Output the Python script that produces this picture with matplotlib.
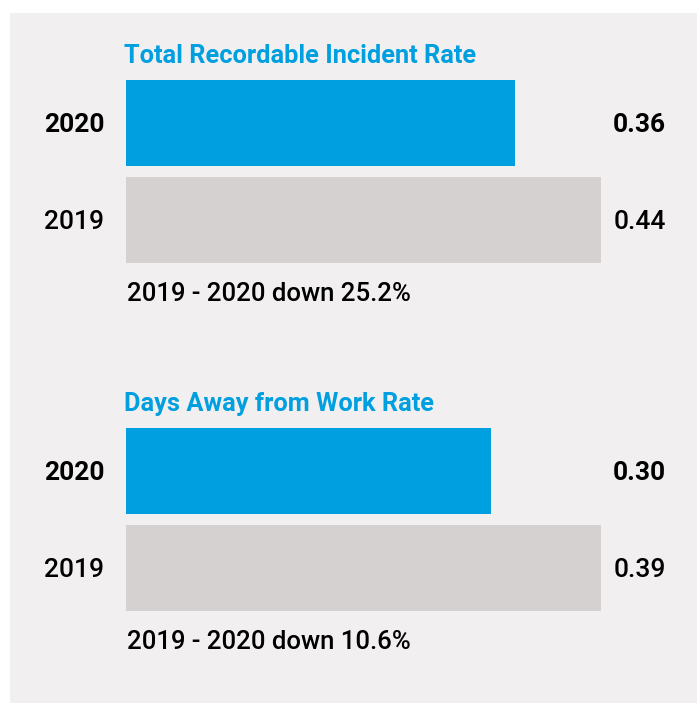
import matplotlib.pyplot as plt
from matplotlib.patches import Rectangle
from matplotlib.transforms import blended_transform_factory

plt.rcParams['font.family'] = ['Roboto', 'DejaVu Sans']

titles = ["Total Recordable Incident Rate", "Days Away from Work Rate"]
years = ["2020", "2019"]
trir = [0.36, 0.44]
dafwr = [0.30, 0.39]
changes = ["2019 - 2020 down 25.2%", "2019 - 2020 down 10.6%"]

BLUE = '#009FE0'
GREY = '#D5D1D0'
PANEL = '#F1EFF0'

W, H = 697, 703


def fx(px):
    return px / W


def fy(py):
    return 1 - py / H


fig = plt.figure(figsize=(W / 100, H / 100), dpi=100)
fig.patch.set_facecolor('white')
fig.patches.append(Rectangle((fx(10), 0), 1, fy(13), transform=fig.transFigure,
                             facecolor=PANEL, edgecolor='none', zorder=-1))


def draw_block(top, title, values, note):
    # bars sit in a 183px tall box, 2020 on top, 2019 below
    ax = fig.add_axes([fx(126), fy(top + 183), (601 - 126) / W, 183 / H])
    ax.set_xlim(0, max(values))
    ax.set_ylim(-0.443, 1.443)
    ax.barh([1, 0], values, height=0.887, color=[BLUE, GREY])
    ax.axis('off')

    trans = blended_transform_factory(fig.transFigure, ax.transData)
    for ypos, yr, v in zip([1, 0], years, values):
        weight = 'bold' if yr == '2020' else 'medium'
        ax.text(fx(44), ypos - 0.02, yr, transform=trans, ha='left', va='center',
                fontsize=19, fontweight=weight, color='black')
        ax.text(fx(666), ypos - 0.02, f'{v:.2f}', transform=trans, ha='right', va='center',
                fontsize=19, fontweight=weight, color='black')

    fig.text(fx(124), fy(top - 17), title, ha='left', va='baseline',
             fontsize=18.3, fontweight='bold', color=BLUE)
    fig.text(fx(127), fy(top + 221), note, ha='left', va='baseline',
             fontsize=18.5, fontweight='medium', color='black')


draw_block(80, titles[0], trir, changes[0])
draw_block(428, titles[1], dafwr, changes[1])

fig.savefig('out.png', dpi=100, facecolor=fig.get_facecolor())
